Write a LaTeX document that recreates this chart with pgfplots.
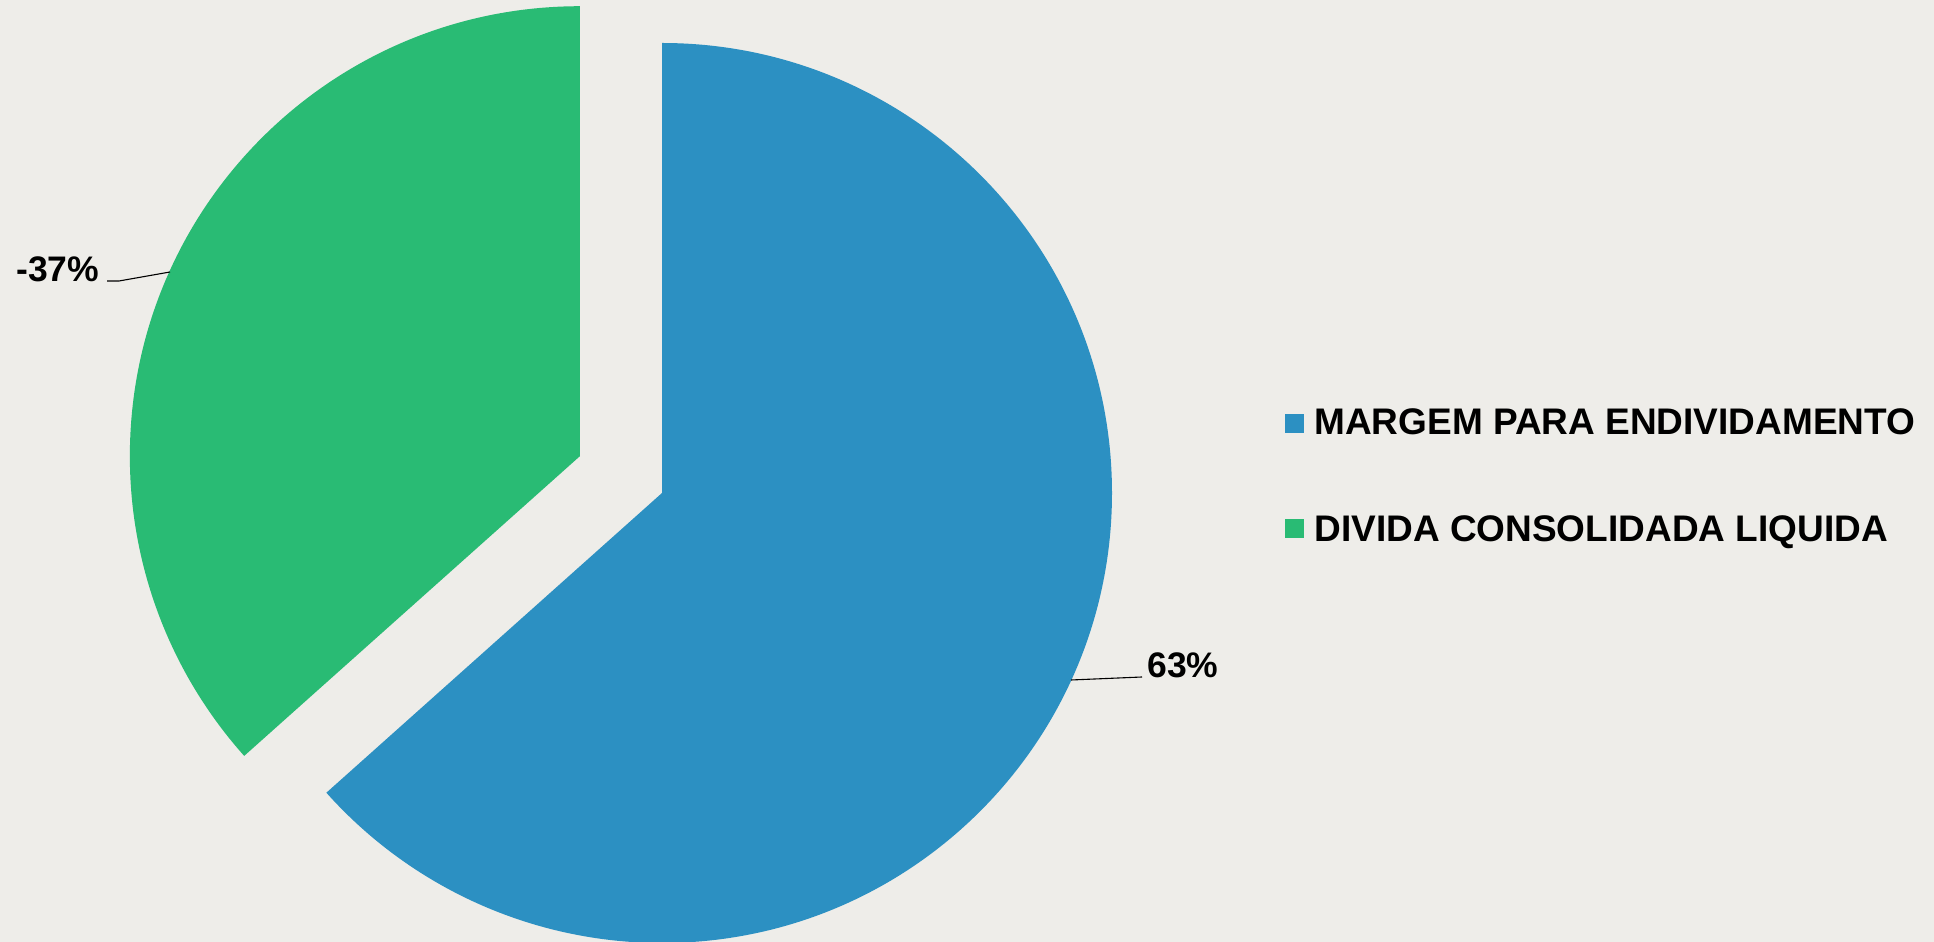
\documentclass[border=0pt]{standalone}
\usepackage{pgfplots}
\pgfplotsset{compat=1.18}
\usepackage{pgfplotstable}
\usepackage{fontspec}
\setmainfont{Liberation Sans}
\definecolor{bg}{RGB}{238,237,233}
\definecolor{cblue}{RGB}{44,144,194}
\definecolor{cgreen}{RGB}{41,187,116}
\pgfplotstableread{
name value
margem 63.4
divida -36.6
}\piedata
\pgfplotstablegetelem{0}{value}\of\piedata \let\vA\pgfplotsretval
\pgfplotstablegetelem{1}{value}\of\piedata \let\vB\pgfplotsretval
\pgfmathsetmacro\tot{abs(\vA)+abs(\vB)}
\pgfmathsetmacro\angA{360*(abs(\vA)/\tot)}
\pgfmathsetmacro\angB{360*(abs(\vB)/\tot)}
\pgfmathsetmacro\endA{90-\angA}
\pgfmathsetmacro\endB{90+\angB}
\pgfmathsetmacro\midB{90+\angB/2}
\pgfmathsetmacro\cAx{662}
\pgfmathsetmacro\cAy{449}
\pgfmathsetmacro\cBx{\cAx+90*cos(\midB)}
\pgfmathsetmacro\cBy{\cAy+90*sin(\midB)}
\begin{document}
\begin{tikzpicture}
\fill[bg] (0,0) rectangle (967pt,471pt);
\begin{axis}[
  hide axis, scale only axis,
  width=967pt, height=471pt,
  xmin=0, xmax=1934, ymin=0, ymax=942,
  at={(0,0)}, anchor=south west,
]
% slices
\fill[cblue] (axis cs:\cAx,\cAy) -- ++(90:225pt) arc[start angle=90, end angle=\endA, radius=225pt] -- cycle;
\fill[cgreen] (axis cs:\cBx,\cBy) -- ++(90:225pt) arc[start angle=90, end angle=\endB, radius=225pt] -- cycle;
% leader lines
\draw[black, line width=0.55pt] (axis cs:107,661) -- (axis cs:119,661) -- (axis cs:170,670);
\draw[black, line width=0.55pt] (axis cs:1071,262) -- (axis cs:1142,265);
% data labels
\node[anchor=base west, inner sep=0pt, font=\fontsize{17.75pt}{20pt}\selectfont\bfseries] at (axis cs:16,660) {-37\%};
\node[anchor=base west, inner sep=0pt, font=\fontsize{17.75pt}{20pt}\selectfont\bfseries] at (axis cs:1147,264) {63\%};
% legend
\fill[cblue] (axis cs:1285,509) rectangle (axis cs:1304,528);
\fill[cgreen] (axis cs:1285,404) rectangle (axis cs:1304,423);
\node[anchor=base west, inner sep=0pt, font=\fontsize{18.5pt}{20pt}\selectfont\bfseries] at (axis cs:1314,507) {MARGEM PARA ENDIVIDAMENTO};
\node[anchor=base west, inner sep=0pt, font=\fontsize{18.5pt}{20pt}\selectfont\bfseries] at (axis cs:1314,400) {DIVIDA CONSOLIDADA LIQUIDA};
\end{axis}
\end{tikzpicture}
\end{document}
